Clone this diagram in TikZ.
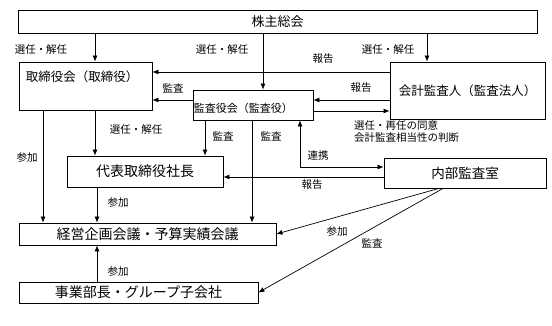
\documentclass[tikz,border=0pt]{standalone}
\usepackage{fontspec}
\setmainfont{Noto Sans CJK JP}
\usetikzlibrary{arrows.meta}

\begin{document}
\begin{tikzpicture}[x=1pt,y=-1pt,>={Latex[length=6pt,width=5pt]},
  box/.style={draw,line width=0.8pt,inner sep=0pt},
  lbl/.style={inner sep=0pt,font=\fontsize{10.5}{12.5}\selectfont},
  arr/.style={->,line width=0.7pt}]
\useasboundingbox (0,0) rectangle (552,326);
% boxes
\node[box,minimum width=519,minimum height=23,font=\fontsize{13}{13}\selectfont] (kabu) at (277.5,21.5) {株主総会};
\node[box,minimum width=133,minimum height=48] (tori) at (85.5,86) {};
\node[inner sep=0pt,anchor=west,font=\fontsize{12.5}{12.5}\selectfont] (toritxt) at ([xshift=7,yshift=-15]tori.north west) {取締役会（取締役）};
\node[box,minimum width=120,minimum height=30] (kansa) at (253,105) {};
\node[inner sep=0pt,anchor=west,font=\fontsize{11}{11}\selectfont] (kansatxt) at ([xshift=1,yshift=-3]kansa.west) {監査役会（監査役）};
\node[box,minimum width=155,minimum height=57,font=\fontsize{12.5}{12.5}\selectfont] (kaikei) at (467.5,90.5) {会計監査人（監査法人）};
\node[box,minimum width=156,minimum height=31,font=\fontsize{14}{14}\selectfont] (daihyo) at (145,171.5) {代表取締役社長};
\node[box,minimum width=162,minimum height=30,font=\fontsize{13.5}{13.5}\selectfont] (naibu) at (465,173) {内部監査室};
\node[box,minimum width=257,minimum height=22,font=\fontsize{14}{14}\selectfont] (keiei) at (147.5,234) {経営企画会議・予算実績会議};
\node[box,minimum width=239,minimum height=21,font=\fontsize{14}{14}\selectfont] (jigyo) at (138.5,292.5) {事業部長・グループ子会社};

% connectors
\draw[arr] ([xshift=9.5]tori.north |- kabu.south) -- ([xshift=9.5]tori.north);
\draw[arr] ([xshift=10]kansa.north |- kabu.south) -- ([xshift=10]kansa.north);
\draw[arr] ([xshift=-40.5]kaikei.north |- kabu.south) -- ([xshift=-40.5]kaikei.north);
\draw[arr] ([yshift=18.5]kaikei.west) -- ([yshift=18.5]tori.east |- kaikei.west);
\draw[arr] ([yshift=5]kansa.west) -- ([yshift=5]tori.east |- kansa.west);
\draw[arr] ([yshift=5]kaikei.west |- kansa.east) -- ([yshift=5]kansa.east);
\draw[arr] ([yshift=-6]kansa.east) -- ([yshift=-6]kaikei.west |- kansa.east);
\draw[arr] ([xshift=9.5]tori.south) -- ([xshift=9.5]daihyo.north -| tori.south);
\draw[arr] ([xshift=-48]kansa.south) -- ([xshift=-48]daihyo.north -| kansa.south);
\draw[arr] ([xshift=-1]kansa.south) -- ([xshift=-1]keiei.north -| kansa.south);
\draw[<->,line width=0.7pt] ([xshift=47]kansa.south) |- ([yshift=6]naibu.west);
\draw[arr] ([yshift=-4]naibu.west) -- ([yshift=-4]daihyo.east |- naibu.west);
\draw[arr] ([xshift=-42.5]tori.south) -- ([xshift=-42.5]keiei.north -| tori.south);
\draw[arr] ([xshift=-48]daihyo.south) -- ([xshift=-48]keiei.north -| daihyo.south);
\draw[arr] ([xshift=-41.5]jigyo.north) -- ([xshift=-41.5]keiei.south -| jigyo.north);
\draw[arr] ([xshift=-26]naibu.south) -- (keiei.east);
\draw[arr] ([xshift=-22]naibu.south) -- (jigyo.east);

% labels
\node[lbl] (l1) at (41,50) {選任・解任};
\node[lbl] (l2) at (222,50) {選任・解任};
\node[lbl] (l3) at (388,50) {選任・解任};
\node[lbl] (l4) at (323,59) {報告};
\node[lbl] (l5) at (173,88) {監査};
\node[lbl] (l6) at (361,88) {報告};
\node[lbl,anchor=north west,align=left] (l7) at (354,120) {選任・再任の同意\\会計監査相当性の判断};
\node[lbl] (l8) at (136,130) {選任・解任};
\node[lbl] (l9) at (223,136) {監査};
\node[lbl] (l10) at (271,136) {監査};
\node[lbl] (l11) at (318,156) {連携};
\node[lbl] (l12) at (312,185) {報告};
\node[lbl] (l13) at (27,158) {参加};
\node[lbl] (l14) at (118,203) {参加};
\node[lbl] (l15) at (118,272) {参加};
\node[lbl] (l16) at (337,232) {参加};
\node[lbl] (l17) at (372,243) {監査};
\end{tikzpicture}
\end{document}
